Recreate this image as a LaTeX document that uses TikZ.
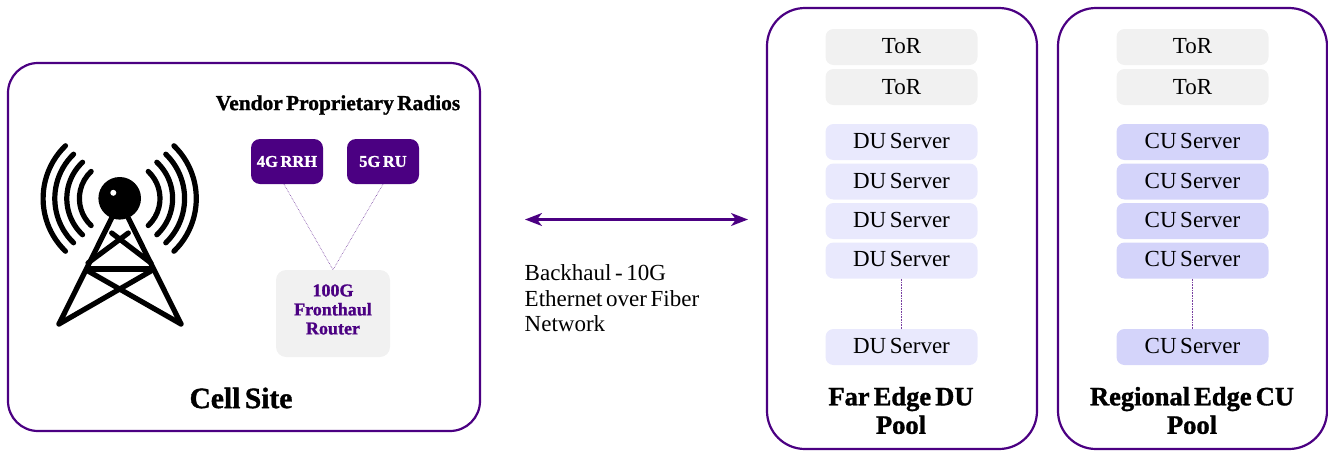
\documentclass[tikz,border=0pt]{standalone}
\usepackage{fontspec}
\setmainfont[WordSpace=0.62, BoldFeatures={FakeBold=1.2}]{Liberation Serif}
\usetikzlibrary{arrows.meta}
\definecolor{sitepurple}{HTML}{4B0082}
\definecolor{slabgrey}{HTML}{F1F1F1}
\definecolor{dublue}{HTML}{E9E9FD}
\definecolor{cublue}{HTML}{D4D4FA}
\def\wavearc(#1)(#2:#3:#4){\draw[towerline] ([shift={(#1)}]#2:#4) arc (#2:#3:#4);}
\tikzset{
	poolbox/.style={draw=sitepurple, line width=2.2pt, rounded corners=38pt},
	slab/.style={rounded corners=8pt, minimum width=152pt, minimum height=36pt, inner sep=0pt, font=\fontsize{23}{24}\selectfont},
	torslab/.style={slab, fill=slabgrey},
	duslab/.style={slab, fill=dublue},
	cuslab/.style={slab, fill=cublue},
	radio/.style={fill=sitepurple, text=white, rounded corners=9pt, minimum width=72pt, minimum height=45pt, inner sep=0pt, font=\fontsize{16.5}{18}\selectfont\bfseries},
	title/.style={align=center, inner sep=0pt, font=\fontsize{26.5}{28.5}\selectfont\bfseries},
	towerline/.style={line width=5.2pt, line cap=round, line join=round},
	dotlink/.style={draw=sitepurple!75, line width=0.6pt, densely dotted},
}

\begin{document}
\begin{tikzpicture}[x=1pt, y=-1pt]
		\useasboundingbox (0, 0) rectangle (1328, 450);
		
		%%%%% CELL SITE %%%%%
		\draw[poolbox, rounded corners=30pt] (8, 63) rectangle (480, 431);
		\node[title, font=\fontsize{29.5}{30}\selectfont\bfseries] (site) at (241, 398) {Cell Site};
		\node[title, font=\fontsize{21.4}{22}\selectfont\bfseries] (vendor) at (338, 105) {Vendor Proprietary Radios};
		
		\node[radio] (rrh) at (287, 161.5) {4G RRH};
		\node[radio] (ru) at (383, 161.5) {5G RU};
		\node[fill=slabgrey, rounded corners=10pt, minimum width=114pt, minimum height=87pt, inner sep=0pt] (router) at (333, 313.5) {};
		\node[align=center, inner sep=0pt, text=sitepurple, font=\fontsize{18}{19}\selectfont\bfseries] (routertext) at (333, 309.5) {100G\\Fronthaul\\Router};
		
		\draw[dotlink] ([xshift=-3pt]rrh.south) -- (router.north);
		\draw[dotlink] (ru.south) -- (router.north);
		
		%%%%% TOWER %%%%%
		\foreach \rad/\ang in {37/47, 49.6/47, 61.6/46, 73.3/46} {
			\wavearc(123, 198.5)(-\ang:\ang:\rad)
			\wavearc(116.4, 198.5)(180-\ang:180+\ang:\rad)
		}
		\draw[towerline] (59, 324) -- (111.7, 218);
		\draw[towerline] (181, 324) -- (128.3, 218);
		\draw[towerline] (59, 324) -- (151, 271);
		\draw[towerline] (181, 324) -- (88, 271);
		\draw[towerline] (88, 263) -- (128.3, 233);
		\draw[towerline] (151, 263) -- (111.7, 233);
		\draw[towerline, line width=5.8pt, line cap=butt] (87, 269) -- (152, 269);
		\fill (119.7, 198.3) circle (21.3);
		\fill[white] (113.3, 192.8) circle (3);
		
		%%%%% BACKHAUL %%%%%
		\coordinate (haulwest) at (525, 219.5);
		\coordinate (hauleast) at (748, 219.5);
		\draw[draw=sitepurple, fill=sitepurple, line width=2.2pt, {Stealth[length=17pt, width=13pt, inset=5pt]}-{Stealth[length=17pt, width=13pt, inset=5pt]}] (haulwest) -- (hauleast);
		\node[anchor=north west, inner sep=0pt, align=left, font=\fontsize{23}{25.5}\selectfont] (haul) at (524.5, 264.5) {Backhaul - 10G\\Ethernet over Fiber\\Network};
		
		%%%%% FAR EDGE DU POOL %%%%%
		\draw[poolbox] (767, 8) rectangle (1037, 449);
		\node[torslab] (dutora) at (901.5, 47) {\raisebox{3pt}{ToR}};
		\node[torslab] (dutorb) at (901.5, 87) {ToR};
		\foreach \y/\n/\up in {142/a/2, 181.5/b/0.5, 221/c/3, 260.5/d/2.5, 347/e/1.5} {
			\node[duslab] (du\n) at (901.5, \y) {\raisebox{\up pt}{DU Server}};
		}
		\draw[dotlink] (dud) -- (due);
		\node[title] (dutitle) at (901, 410.5) {Far Edge DU\\Pool};
		
		%%%%% REGIONAL EDGE CU POOL %%%%%
		\draw[poolbox] (1058, 8) rectangle (1327, 449);
		\node[torslab] (cutora) at (1192.5, 47) {\raisebox{3pt}{ToR}};
		\node[torslab] (cutorb) at (1192.5, 87) {ToR};
		\foreach \y/\n/\up in {142/a/2, 181.5/b/0.5, 221/c/3, 260.5/d/2.5, 347/e/1.5} {
			\node[cuslab] (cu\n) at (1192.5, \y) {\raisebox{\up pt}{CU Server}};
		}
		\draw[dotlink] (cud) -- (cue);
		\node[title] (cutitle) at (1192, 410.5) {Regional Edge CU\\Pool};
		
	\end{tikzpicture}
\end{document}
